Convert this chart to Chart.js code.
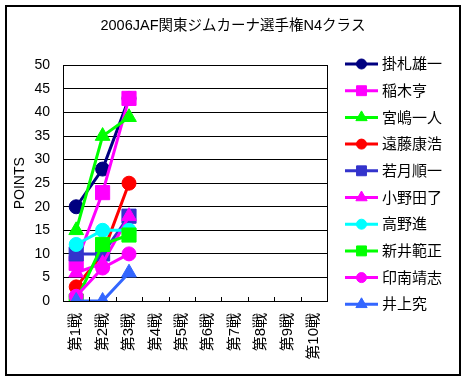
<!DOCTYPE html>
<html>
<head>
<meta charset="utf-8">
<script src="https://cdn.jsdelivr.net/npm/chart.js@4"></script>
<style>
  html, body { margin: 0; padding: 0; background: #fff; }
  #wrap { width: 466px; height: 382px; }
</style>
</head>
<body>
<div id="wrap"><canvas id="c" width="466" height="382"></canvas></div>
<script>
const chartTitle = '2006JAF関東ジムカーナ選手権N4クラス';
const yTitle = 'POINTS';
const categories = ['第1戦','第2戦','第3戦','第4戦','第5戦','第6戦','第7戦','第8戦','第9戦','第10戦'];
const seriesNames = ['掛札雄一','稲木亨','宮嶋一人','遠藤康浩','若月順一','小野田了','高野進','新井範正','印南靖志','井上究'];
const kakefuda  = [20, 28, 43];
const inagi     = [8, 23, 43];
const miyajima  = [15, 35, 39];
const endo      = [3, 10, 25];
const wakatsuki = [10, 10, 18];
const onoda     = [6, 8, 18];
const takano    = [12, 15, 15];
const arai      = [0, 12, 14];
const innami    = [1, 7, 10];
const inoue     = [0, 0, 6];
const seriesValues = [kakefuda, inagi, miyajima, endo, wakatsuki, onoda, takano, arai, innami, inoue];
const seriesColors = ['#000080','#FF00FF','#00FF00','#FF0000','#3333CC','#FF00FF','#00FFFF','#00FF00','#FF00FF','#3366FF'];
const seriesStyles = ['circle','rect','triangle','circle','rect','triangle','circle','rect','circle','triangle'];
const yMin = 0, yMax = 50, yStep = 5;

const plotRadius = {circle: 7, rect: 10, triangle: 8.5};
const legendRadius = {circle: 5, rect: 7, triangle: 6.5};

Chart.defaults.font.family = "'Liberation Sans', 'Noto Sans CJK JP', sans-serif";
Chart.defaults.color = '#000';

const datasets = seriesNames.map((name, i) => ({
  label: name,
  data: seriesValues[i],
  borderColor: seriesColors[i],
  backgroundColor: seriesColors[i],
  pointBackgroundColor: seriesColors[i],
  pointBorderColor: seriesColors[i],
  pointStyle: seriesStyles[i],
  pointRadius: plotRadius[seriesStyles[i]],
  pointBorderWidth: 1,
  borderWidth: 3,
  tension: 0,
  fill: false,
  order: seriesNames.length - i
}));

const framePlugin = {
  id: 'frame',
  beforeDraw(chart) {
    const ctx = chart.ctx;
    ctx.save();
    ctx.fillStyle = '#fff';
    ctx.fillRect(0, 0, chart.width, chart.height);
    ctx.restore();
  },
  afterDraw(chart) {
    const ctx = chart.ctx;
    const a = chart.chartArea;
    const xs = chart.scales.x;
    ctx.save();
    // plot frame
    ctx.strokeStyle = '#000';
    ctx.lineWidth = 1;
    ctx.strokeRect(Math.round(a.left) + 0.5, Math.round(a.top) + 0.5, Math.round(a.right - a.left), Math.round(a.bottom - a.top));
    // inside tick marks at category boundaries
    ctx.beginPath();
    for (let i = 1; i < categories.length; i++) {
      const x = Math.round(xs.getPixelForValue(i - 0.5)) + 0.5;
      ctx.moveTo(x, Math.round(a.bottom));
      ctx.lineTo(x, Math.round(a.bottom) - 4);
    }
    ctx.stroke();
    // outer border
    ctx.lineWidth = 2;
    ctx.strokeRect(6, 6, 454, 369);
    // legend
    const lx0 = 345, lx1 = 378, mx = 361.5, tx = 382, ly0 = 64, step = 26.7;
    ctx.font = "15px 'Liberation Sans', 'Noto Sans CJK JP', sans-serif";
    ctx.textBaseline = 'middle';
    ctx.textAlign = 'left';
    chart.data.datasets.forEach((ds, i) => {
      const y = ly0 + i * step;
      ctx.strokeStyle = ds.borderColor;
      ctx.lineWidth = 3;
      ctx.beginPath();
      ctx.moveTo(lx0, y);
      ctx.lineTo(lx1, y);
      ctx.stroke();
      ctx.fillStyle = ds.pointBackgroundColor;
      ctx.strokeStyle = ds.pointBorderColor;
      ctx.lineWidth = 1;
      Chart.helpers.drawPoint(ctx, {pointStyle: ds.pointStyle, radius: legendRadius[ds.pointStyle], borderWidth: 1, rotation: 0}, mx, y);
      ctx.fillStyle = '#000';
      ctx.fillText(ds.label, tx, y + 1);
    });
    ctx.restore();
  }
};

new Chart(document.getElementById('c'), {
  type: 'line',
  data: { labels: categories, datasets },
  options: {
    responsive: false,
    animation: false,
    devicePixelRatio: 1,
    layout: { padding: { left: 0, right: 0, top: 0, bottom: 0 } },
    plugins: {
      legend: { display: false },
      tooltip: { enabled: false },
      title: {
        display: true,
        text: chartTitle,
        font: { size: 14.5, weight: 'normal' },
        color: '#000',
        padding: { top: 17, bottom: 31 }
      }
    },
    scales: {
      x: {
        offset: true,
        grid: { display: false, drawTicks: false },
        border: { display: true, color: '#000', width: 1 },
        ticks: { autoSkip: false, minRotation: 90, maxRotation: 90, padding: 12, font: { size: 15 }, color: '#000' },
        afterFit(scale) { scale.height = 81; }
      },
      y: {
        min: yMin, max: yMax,
        grid: { color: '#000', lineWidth: 1, drawTicks: false },
        border: { display: true, color: '#000', width: 1 },
        ticks: { stepSize: yStep, padding: 13, font: { size: 14 }, color: '#000' },
        title: { display: true, text: yTitle, font: { size: 14 }, color: '#000', padding: { top: 12, bottom: 0 } },
        afterFit(scale) { scale.width = 63; }
      },
      legendSpace: {
        type: 'linear',
        position: 'right',
        min: yMin, max: yMax,
        grid: { display: false, drawTicks: false },
        border: { display: false },
        ticks: { display: false },
        afterFit(scale) { scale.width = 139; }
      }
    }
  },
  plugins: [framePlugin]
});
</script>
</body>
</html>
